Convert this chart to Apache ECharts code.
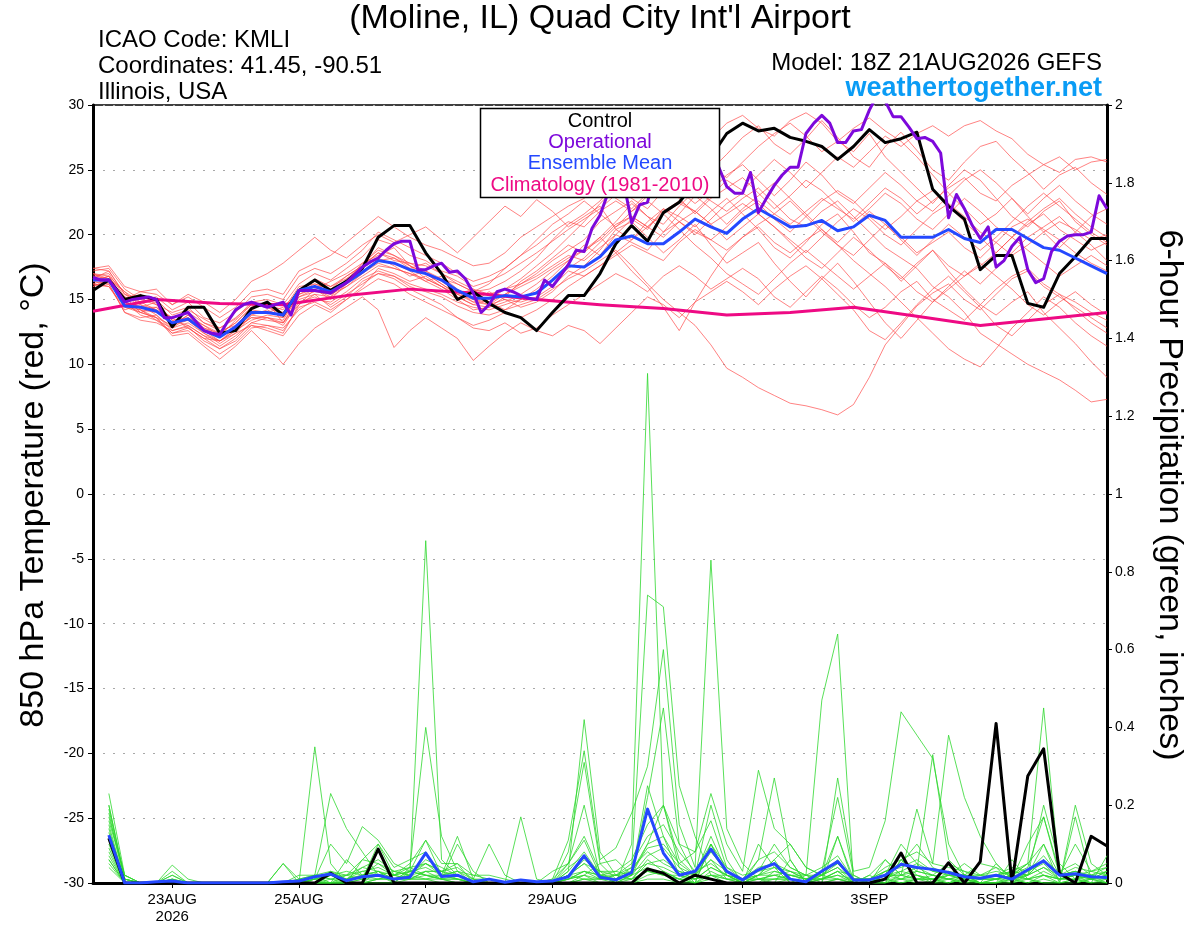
<!DOCTYPE html>
<html><head><meta charset="utf-8">
<script src="https://cdn.jsdelivr.net/npm/echarts@6/dist/echarts.min.js"></script>
<style>html,body{margin:0;padding:0;background:#fff}#c{width:1200px;height:927px}</style>
</head><body><div id="c"></div>
<script>
// ---- axis ticks (hours after 18Z 21AUG2026) ----
const tickHours = [30, 78, 126, 174, 246, 294, 342];
const tickLabels = ['23AUG\n2026', '25AUG', '27AUG', '29AUG', '1SEP', '3SEP', '5SEP'];

// ---- 850 hPa temperature, 6-hourly from hour 0 (65 values) ----
const control = [15.7,16.5,15.0,15.3,15.0,12.9,14.4,14.4,12.4,12.6,14.3,14.8,13.8,
 15.7,16.5,15.7,16.4,17.4,19.8,20.7,20.7,18.6,17.0,15.0,15.6,14.7,14.0,13.6,12.6,
 14.0,15.3,15.3,17.0,19.3,20.7,19.5,21.7,22.5,24.0,26.0,27.8,
 28.6,28.0,28.2,27.5,27.2,26.8,25.8,26.8,28.1,27.1,27.4,27.9,23.5,22.2,21.2,17.3,18.4,18.4,14.7,14.4,17.0,18.3,19.7,19.7];
const ensMean = [16.5,16.5,14.5,14.4,14.1,13.2,13.5,12.6,12.1,12.9,14.0,14.0,13.8,
 15.7,16.0,15.6,16.3,17.1,18.0,17.8,17.3,17.0,16.5,15.7,15.1,15.1,15.3,15.2,15.5,
 16.5,17.6,17.5,18.3,19.6,19.9,19.3,19.3,20.2,21.2,20.6,20.1,
 21.2,22.0,21.3,20.6,20.7,21.1,20.3,20.6,21.5,21.1,19.8,19.8,19.8,20.4,19.7,19.4,20.4,20.4,19.7,19.0,18.8,18.2,17.6,17.0];
// operational run, 3-hourly from hour 0 (129 values)
const operational = [16.7,16.5,16.5,15.7,14.8,15.0,15.1,15.2,15.0,13.6,13.6,13.8,14.0,13.3,12.6,12.4,12.3,13.3,14.2,14.6,
 14.8,14.6,14.4,14.6,14.8,13.8,15.7,15.7,15.7,15.6,15.5,15.9,16.3,16.9,17.5,17.9,18.2,18.8,19.3,19.5,
 19.5,17.3,17.3,17.6,17.8,17.1,17.2,16.6,15.5,14.0,14.6,15.6,15.8,15.6,15.3,15.1,15.0,16.5,16.0,16.8,
 17.7,18.8,18.7,20.5,21.5,23.2,24.5,24.0,20.9,22.3,22.5,25.0,26.0,26.5,27.0,27.2,26.8,26.5,26.0,25.2,
 23.7,23.2,23.2,24.8,21.7,22.8,23.8,24.6,25.2,25.2,27.8,28.6,29.2,28.6,27.1,27.1,28.0,28.1,29.6,30.8,
 30.3,29.1,29.1,28.3,27.4,27.5,27.2,26.3,21.3,23.1,22.0,20.7,19.7,20.6,17.5,18.0,19.1,19.8,17.3,16.3,
 16.6,18.7,19.5,19.9,20.0,20.0,20.2,23.0,22.0];
// climatology, daily at 18Z (17 values)
const climatology = [14.1,15.0,14.7,14.6,15.3,15.8,15.5,15.0,14.6,14.3,13.8,14.0,14.4,13.7,13.0,13.5,14.0];

// ---- ensemble members, 850 hPa temperature (65 values each) ----
const red01 = [16.8,17.0,15.2,14.8,15.0,13.8,14.2,13.5,12.8,13.5,14.8,15.0,14.6,16.2,17.0,16.5,17.4,18.3,19.6,19.2,18.4,18.0,17.2,16.8,16.0,16.4,17.0,17.8,18.6,19.5,20.4,21.2,22.0,23.1,24.0,23.2,24.5,25.8,26.4,25.0,26.2,27.5,28.4,27.0,26.2,27.4,28.8,27.5,26.0,25.2,26.8,27.9,26.5,25.0,24.2,25.6,26.8,27.2,25.9,24.8,23.5,24.6,25.2,24.0,23.1];
const red02 = [16.4,16.2,14.0,13.6,13.8,12.6,12.9,11.8,11.2,12.0,13.2,13.6,13.0,14.8,15.2,14.6,15.4,16.2,17.0,16.8,16.0,15.6,15.2,14.5,14.0,13.8,14.2,14.6,15.0,15.8,16.6,17.2,18.0,18.8,17.6,16.2,15.0,14.0,13.0,11.5,9.7,9.0,8.2,7.6,7.0,6.8,6.5,6.1,6.9,9.0,11.5,13.0,14.5,15.5,16.2,15.0,14.2,15.4,16.6,17.2,16.0,15.2,14.4,13.6,12.8];
const red03 = [17.2,17.4,15.8,15.0,14.6,13.4,13.0,12.2,11.8,12.4,13.0,12.6,12.2,13.8,14.6,14.0,15.0,16.0,17.4,17.0,16.4,16.8,16.0,15.2,14.6,15.0,15.8,16.2,17.0,18.0,18.8,19.6,21.0,21.8,22.6,21.4,20.8,22.2,23.4,22.6,21.8,22.8,23.6,22.4,21.2,20.6,21.8,22.6,21.4,20.2,19.0,18.2,17.4,16.0,15.2,14.0,12.4,11.6,10.8,10.0,9.4,8.8,8.0,7.1,7.3];
const red04 = [16.0,16.6,15.6,14.2,13.4,12.8,13.6,13.0,12.4,13.2,14.4,14.8,13.2,14.6,15.8,16.4,17.0,17.8,18.4,19.0,17.6,16.6,16.0,15.4,15.8,14.8,14.2,15.0,15.8,16.8,18.0,19.2,18.4,20.0,21.2,20.4,22.0,21.4,20.6,21.8,22.8,21.6,20.4,19.0,18.2,19.4,20.8,21.6,20.2,18.6,17.8,16.4,17.6,18.8,17.2,15.8,14.6,13.8,14.8,15.6,14.0,12.8,11.6,10.2,9.0];
const red05 = [17.0,16.8,15.0,15.4,14.6,14.0,14.4,13.2,12.6,13.0,14.2,14.0,14.4,15.6,16.6,16.0,16.8,17.6,18.6,18.0,17.8,17.2,16.6,16.2,15.6,15.8,16.4,17.2,18.2,19.6,20.8,21.6,22.6,24.0,25.2,24.6,26.0,27.0,28.2,27.4,28.6,29.2,28.2,27.6,28.8,29.4,28.6,27.2,26.4,27.8,26.0,24.8,23.6,22.4,23.8,25.0,24.2,22.8,21.4,20.6,21.8,22.6,21.0,20.0,19.2];
const red06 = [16.6,16.4,14.6,14.0,14.4,13.6,12.8,12.0,11.8,12.6,13.4,13.8,13.6,15.2,15.6,15.4,16.0,16.8,17.6,17.4,17.0,16.4,16.8,15.8,15.0,14.6,15.4,16.0,16.6,17.4,18.2,18.8,19.6,20.8,21.4,20.6,21.6,22.4,21.8,23.0,24.2,23.4,24.6,25.8,24.8,23.6,24.8,26.0,25.2,26.4,27.6,26.8,27.8,28.4,27.6,28.4,28.8,28.0,27.4,26.2,25.4,26.0,25.0,25.6,25.8];
const red07 = [16.2,16.0,14.2,14.6,13.8,12.8,13.2,12.4,11.6,12.4,13.8,14.2,13.6,15.4,15.8,15.0,16.2,17.4,18.2,17.6,16.8,17.2,16.4,15.6,14.8,14.6,15.0,14.8,15.2,16.0,17.2,16.8,17.6,18.4,19.2,18.6,18.0,19.4,20.4,19.6,18.8,19.8,20.6,19.4,18.6,19.6,20.4,19.2,18.4,19.6,20.8,19.8,18.6,19.4,20.2,19.0,18.2,19.4,20.6,21.2,20.4,19.6,18.6,17.8,17.2];
const red08 = [16.4,16.8,14.8,13.8,13.4,12.4,12.6,11.6,10.8,11.6,12.8,13.0,12.6,14.4,14.8,14.2,15.0,15.8,16.6,16.2,15.4,14.8,14.2,13.6,12.8,12.6,13.2,12.4,12.8,13.8,14.6,15.4,16.2,17.0,16.4,15.6,16.8,17.6,16.8,15.8,16.6,17.4,16.6,15.2,14.4,15.6,16.8,15.8,14.6,13.6,14.4,15.6,16.4,15.0,14.2,13.4,14.6,15.8,16.8,17.4,16.2,15.4,14.8,14.0,13.4];
const red09 = [17.4,17.2,15.4,15.0,15.2,14.2,14.8,13.6,13.2,14.0,15.2,15.4,15.0,16.8,17.4,17.0,17.8,18.8,20.2,19.6,19.0,18.4,17.8,17.0,16.4,16.8,17.4,18.4,19.2,20.2,21.0,20.6,21.8,22.6,21.8,23.0,23.8,22.8,21.6,22.8,23.6,24.4,23.2,22.0,23.0,24.2,23.4,22.2,21.0,22.0,23.2,22.4,21.2,20.4,21.6,22.8,21.8,20.6,19.8,20.8,21.6,20.4,19.6,18.8,19.4];
const red10 = [16.0,16.4,15.2,14.0,13.6,13.0,13.8,12.8,12.2,12.8,13.6,13.4,13.2,15.0,15.4,15.2,16.6,17.6,19.0,18.4,17.6,17.0,16.2,15.4,14.8,15.6,15.0,14.4,14.8,15.6,16.8,17.6,18.8,20.4,21.0,19.8,18.6,19.6,20.8,19.2,17.8,18.6,19.4,17.8,16.4,15.2,16.6,17.8,16.4,14.8,13.2,12.0,13.4,14.8,16.0,17.2,16.2,17.4,18.6,19.8,20.6,21.4,20.2,19.2,18.0];
const red11 = [16.6,17.2,15.4,14.6,14.2,13.0,13.8,13.0,12.2,13.4,14.6,14.4,13.8,15.8,16.4,16.0,16.6,17.2,18.0,18.2,17.6,17.0,16.2,15.4,15.0,14.8,15.4,16.2,16.8,17.6,18.4,18.0,19.0,20.0,19.4,18.8,20.2,21.0,20.2,19.6,20.6,21.8,22.6,21.6,20.8,21.8,22.8,22.0,21.2,22.4,23.6,22.8,21.6,22.6,23.6,24.4,23.2,22.6,23.8,24.6,25.4,24.8,25.8,26.0,25.6];
const red12 = [16.2,16.6,14.4,14.2,13.6,12.2,12.4,11.4,10.4,11.4,12.6,11.4,10.0,11.6,12.8,13.6,14.4,15.2,14.2,11.3,12.6,13.6,12.8,12.0,10.3,11.4,12.4,13.2,12.6,12.2,13.0,12.6,11.6,12.8,14.0,15.2,14.6,13.6,14.8,15.6,16.4,15.6,14.6,15.8,16.8,17.6,16.6,15.4,14.2,12.6,11.9,13.2,14.6,15.8,16.8,15.6,14.4,13.0,12.2,13.4,14.6,15.4,14.2,13.2,12.4];
const red13 = [17.0,16.6,14.8,14.4,14.8,13.4,13.6,12.8,12.4,13.2,14.4,14.6,14.2,16.0,16.2,15.8,16.4,17.8,18.8,18.4,17.8,17.6,17.0,16.4,15.8,15.4,15.8,16.6,17.6,18.6,19.8,21.0,22.4,23.6,22.8,22.0,23.4,24.8,26.0,25.2,24.4,25.6,26.8,27.8,28.6,27.6,26.4,27.2,28.2,29.0,28.0,27.2,26.0,24.6,23.2,22.0,20.8,21.6,22.8,21.4,20.2,19.0,20.2,21.4,22.0];
const red14 = [16.6,16.4,14.6,14.2,14.0,13.2,13.4,12.6,11.8,12.6,13.8,13.6,13.4,15.4,16.0,15.4,16.2,17.0,17.8,17.4,17.0,16.6,16.0,15.2,14.6,14.4,14.8,15.4,16.2,17.2,18.0,18.8,19.8,18.6,17.2,16.0,14.4,12.6,14.8,16.8,18.6,19.8,20.8,21.6,22.6,21.4,20.2,19.2,18.0,17.0,16.0,14.8,13.6,12.4,11.2,10.4,9.8,11.2,12.8,14.0,15.2,14.4,13.2,12.2,11.4];
const red15 = [17.4,17.6,16.0,15.6,15.4,14.6,15.2,14.4,13.6,14.4,15.6,15.8,15.4,17.2,17.8,18.4,19.4,20.4,21.4,20.6,19.8,19.2,18.8,18.2,17.6,17.8,18.6,19.8,20.6,21.4,22.2,22.8,23.7,22.8,22.0,23.2,24.2,23.4,22.4,23.4,24.6,25.4,24.2,23.0,24.2,25.6,24.6,23.2,22.4,23.6,24.8,23.8,22.6,21.8,23.0,24.2,25.0,24.0,22.8,21.6,22.8,23.8,22.6,21.6,20.8];
const red16 = [16.8,16.6,15.0,15.6,15.8,14.6,15.4,14.8,14.0,15.0,16.4,17.0,17.8,18.8,19.8,18.8,18.2,19.2,20.0,19.4,20.0,20.6,19.6,18.6,19.8,21.0,22.2,21.4,22.7,21.8,20.6,21.4,22.2,20.4,19.6,20.6,21.8,22.6,21.8,20.8,21.6,22.4,21.6,20.6,19.6,18.6,19.8,21.0,22.0,21.2,20.0,19.2,20.4,21.6,22.4,21.4,20.2,19.4,18.4,19.2,20.2,21.0,20.4,19.6,20.0];
const red17 = [15.8,16.2,14.0,13.4,13.2,12.6,13.0,12.2,11.4,12.2,13.2,13.0,12.8,14.2,15.0,14.8,15.6,16.6,17.2,16.8,16.2,15.8,15.4,14.8,14.4,14.2,14.6,15.0,15.6,16.4,17.4,18.2,19.4,20.6,21.4,20.6,19.8,21.0,21.8,20.8,19.6,20.6,21.6,20.6,19.4,18.2,17.4,18.6,19.8,18.8,17.6,16.6,17.8,18.8,17.6,16.8,17.6,18.6,19.8,18.8,17.8,16.8,17.6,18.4,17.6];
const red18 = [16.4,16.8,15.6,14.8,14.2,13.6,14.0,13.2,12.8,13.6,14.6,14.4,14.0,15.6,16.2,15.8,16.8,17.6,18.6,18.2,17.4,17.8,17.0,16.2,15.6,16.2,17.4,18.4,19.6,20.8,21.6,22.6,21.6,20.6,21.8,22.6,21.6,20.4,19.2,18.2,17.0,16.2,15.4,16.6,17.8,18.8,17.8,16.8,15.8,16.8,17.8,16.8,15.6,14.8,15.8,16.8,17.8,16.8,15.8,14.6,13.8,14.8,15.6,14.6,13.8];
const red19 = [16.2,16.0,14.4,14.0,13.6,12.4,12.8,12.0,11.2,11.8,13.0,12.8,12.4,14.6,15.4,14.4,15.2,16.4,17.0,16.6,15.8,15.2,14.6,13.6,13.0,13.4,14.0,13.6,14.2,15.0,16.0,16.8,17.6,18.6,19.6,21.0,22.0,21.0,20.0,21.2,22.4,23.2,22.4,21.2,20.2,21.4,22.6,23.4,22.6,21.4,20.4,21.4,22.6,23.4,22.2,21.0,19.8,18.6,19.8,21.0,22.0,22.8,21.6,20.6,19.8];
const red20 = [17.0,16.4,14.8,14.4,14.4,13.0,13.4,12.4,11.8,12.8,13.6,13.6,13.2,15.2,15.8,15.2,16.0,17.0,18.0,17.8,17.2,16.4,15.8,15.0,14.2,14.4,15.2,16.4,17.2,18.2,19.2,18.6,19.8,21.0,22.4,21.4,20.2,21.6,23.0,22.0,20.8,22.0,23.0,24.0,22.8,21.6,20.4,19.4,20.6,21.8,20.8,19.6,18.4,19.6,20.8,19.8,18.8,19.8,21.0,22.2,23.2,22.2,21.2,20.2,19.4];

// ---- 6-hour precipitation, from hour 6 (64 values each) ----
const controlPrecip = [0.115,0,0,0,0,0,0,0, 0,0,0,0,0,0,0.025,0, 0,0.087,0,0,0,0,0,0, 0,0,0,0,0,0,0,0,
 0,0,0.036,0.025,0,0.02,0.01,0, 0,0,0,0,0,0,0,0, 0,0.01,0.077,0,0,0.052,0,0.055, 0.41,0,0.275,0.345,0.025,0,0.12,0.095];
const meanPrecip = [0.123,0,0,0.003,0.005,0,0,0, 0,0,0,0.003,0.005,0.016,0.023,0.006, 0.016,0.02,0.01,0.015,0.077,0.017,0.02,0.003,
 0.01,0.002,0.008,0.003,0.005,0.016,0.07,0.015, 0.008,0.027,0.19,0.077,0.02,0.03,0.087,0.03, 0.008,0.034,0.05,0.01,0.003,0.03,0.055,0.008,
 0.008,0.02,0.048,0.04,0.035,0.027,0.016,0.012, 0.02,0.01,0.034,0.057,0.02,0.024,0.016,0.014];
const green01 = [0.23,0.02,0,0,0.01,0,0,0, 0,0,0,0,0,0.35,0.05,0, 0,0.03,0.01,0.02,0.88,0.06,0.02,0, 0,0,0,0,0,0.05,0.11,0.02, 0,0.1,1.31,0.2,0.04,0,0.1,0.02, 0,0.02,0.06,0,0,0.02,0.06,0, 0,0,0.06,0.02,0,0.03,0.01,0, 0,0.02,0.05,0.45,0.02,0,0.01,0.03];
const green02 = [0.2,0.01,0,0,0.046,0.01,0,0, 0,0,0,0,0.02,0.02,0.23,0.14, 0.08,0.02,0,0.04,0.4,0.12,0.03,0, 0,0,0,0,0,0.03,0.42,0.08, 0.02,0.04,0.74,0.71,0.25,0.12,0.02,0, 0,0.1,0.04,0,0.02,0.47,0.64,0, 0,0.02,0.1,0.05,0,0,0.02,0.05, 0.04,0,0.02,0.2,0.05,0.01,0,0.07];
const green03 = [0.18,0,0,0,0.03,0,0,0, 0,0,0,0.05,0,0.01,0.1,0.05, 0.145,0.11,0.05,0.03,0.11,0.02,0.12,0.01, 0.1,0.02,0,0,0.01,0.11,0.34,0.06, 0.09,0.18,0.3,0.6,0.15,0.04,0.83,0.14, 0.05,0.01,0,0.06,0,0,0.27,0.03, 0.04,0.16,0.44,0.38,0.32,0.1,0.02,0, 0,0.06,0.01,0,0,0.2,0.05,0.02];
const green04 = [0.16,0.02,0,0,0.02,0,0,0, 0,0,0,0,0,0.02,0.01,0, 0.06,0.1,0.04,0.06,0.08,0.01,0.1,0.03, 0,0,0.17,0.01,0,0.08,0.31,0.05, 0.06,0.02,0.22,0.45,0.1,0.08,0.23,0.1, 0.03,0.29,0.14,0.1,0.04,0.02,0.12,0, 0,0.06,0.02,0.19,0.05,0.38,0.22,0.12, 0.05,0.01,0.1,0.17,0.02,0.1,0.03,0.04];
const green05 = [0.14,0,0,0,0,0,0,0, 0,0,0,0,0,0.02,0,0.06, 0.02,0.05,0.03,0.02,0.05,0.03,0.05,0, 0,0,0,0,0.03,0.05,0.2,0.02, 0.03,0.06,0.15,0.2,0.1,0.02,0.2,0.06, 0,0.06,0.27,0.06,0,0.01,0.02,0, 0.02,0,0.06,0.03,0.33,0.06,0.02,0.02, 0.04,0.02,0.05,0.1,0,0.17,0.01,0];
const green06 = [0.12,0.01,0,0,0.01,0,0,0, 0,0,0,0,0,0,0.02,0.03, 0.02,0.03,0,0.03,0.05,0.02,0.03,0.02, 0.02,0.01,0,0,0,0,0.02,0.05, 0.01,0.03,0.1,0.12,0.05,0.08,0.16,0.04, 0.02,0.03,0.1,0.04,0.02,0,0.12,0.01, 0,0.02,0.02,0.04,0.02,0.05,0.03,0.01, 0.02,0.03,0.05,0.02,0.01,0.02,0.03,0.02];
const green07 = [0.1,0,0,0,0,0,0,0, 0,0,0,0,0.01,0.02,0.03,0.01, 0.03,0.02,0.03,0.04,0.02,0.01,0.02,0, 0,0,0,0,0,0.02,0.05,0.03, 0,0.02,0.25,0.12,0.02,0,0.1,0.02, 0.01,0.02,0.06,0.1,0.04,0.02,0.04,0, 0.02,0.06,0.02,0.01,0,0.02,0.01,0, 0.05,0.01,0.02,0.1,0.02,0.02,0,0.01];
const green08 = [0.08,0,0,0,0,0,0,0, 0,0,0,0,0,0.01,0,0.02, 0.01,0.1,0.02,0.01,0.03,0.03,0.01,0, 0,0,0,0,0,0.02,0.03,0.01, 0.02,0.01,0.06,0.03,0.01,0.03,0.05,0.02, 0,0,0.03,0.02,0.01,0.03,0.05,0.01, 0.01,0.03,0.01,0.02,0.01,0.02,0.02,0.01, 0.01,0,0.03,0.05,0.01,0.02,0.01,0.02];
const green09 = [0.06,0,0,0,0,0,0,0, 0,0,0,0,0,0,0,0, 0,0.01,0.02,0.03,0.02,0.01,0,0, 0,0,0,0,0,0.01,0.02,0, 0,0.02,0.04,0.02,0.01,0,0.03,0.01, 0,0.01,0.02,0.01,0,0.01,0.03,0, 0,0.01,0,0.01,0.02,0.01,0,0.01, 0.02,0.01,0,0.02,0,0.01,0.02,0];
const green10 = [0.05,0,0,0,0,0,0,0, 0,0,0,0,0,0.01,0.02,0, 0.02,0.01,0.01,0.02,0.01,0.02,0.01,0, 0,0,0,0,0,0.02,0.01,0.01, 0.02,0.01,0.03,0.02,0.02,0.01,0.02,0.02, 0.01,0.01,0.02,0.01,0,0.02,0.01,0.01, 0,0,0.02,0.01,0.01,0,0.01,0.02, 0.01,0.02,0.01,0.03,0.01,0.01,0.02,0.01];
const green11 = [0.2,0.01,0,0,0,0,0,0, 0,0,0,0,0,0,0.02,0.01, 0.04,0.06,0.03,0.02,0.06,0.04,0.02,0, 0,0,0,0,0,0.03,0.08,0.02, 0.01,0.02,0.1,0.2,0.06,0.02,0.12,0.03, 0,0.02,0.04,0.02,0.01,0.03,0.22,0.02, 0,0.03,0.05,0.1,0.04,0.02,0.05,0.02, 0.03,0.02,0.04,0.17,0.03,0.05,0.02,0.04];
const green12 = [0.11,0,0,0,0,0,0,0, 0,0,0,0,0,0,0,0.01, 0.02,0.03,0.01,0.01,0.03,0.01,0.01,0, 0,0,0,0,0,0.02,0.05,0.01, 0.01,0.04,0.08,0.05,0.03,0.02,0.06,0.01, 0.01,0.02,0.02,0.03,0.01,0.01,0.03,0.02, 0,0.01,0.03,0.02,0.01,0.02,0.01,0.01, 0.01,0.01,0.02,0.04,0.02,0.03,0.01,0.03];
const green13 = [0.09,0,0,0,0,0,0,0, 0,0,0,0,0,0,0,0, 0.01,0.02,0.01,0.03,0.04,0.02,0.01,0.01, 0.01,0,0,0,0,0.01,0.03,0.02, 0,0.01,0.05,0.04,0.02,0.01,0.04,0.02, 0,0.01,0.01,0.02,0.02,0.01,0.02,0.01, 0.01,0.02,0.01,0.03,0.02,0.01,0.02,0, 0.01,0.02,0.01,0.02,0.01,0.02,0.01,0.02];
const green14 = [0.07,0,0,0,0,0,0,0, 0,0,0,0,0,0,0,0, 0,0.01,0.02,0.01,0.02,0.01,0,0, 0,0,0,0,0,0,0.01,0.01, 0,0,0.02,0.03,0.01,0,0.02,0.01, 0,0,0.01,0.01,0,0,0.01,0, 0,0.01,0,0.01,0.01,0,0.01,0, 0,0.01,0,0.01,0,0,0.01,0];
const green15 = [0.04,0,0,0,0,0,0,0, 0,0,0,0.05,0.01,0,0,0, 0,0,0,0.01,0.01,0,0,0, 0,0,0,0,0,0,0.01,0, 0,0,0.01,0.01,0,0,0.01,0, 0,0,0,0.01,0,0,0.01,0, 0,0,0.01,0,0,0.01,0,0, 0,0,0.01,0,0,0.01,0,0];
const green16 = [0.17,0.02,0,0,0.02,0,0,0, 0,0,0,0,0.01,0.02,0.01,0.02, 0.06,0.05,0.02,0.05,0.11,0.05,0.05,0.02, 0.01,0,0,0,0.01,0.05,0.12,0.03, 0.02,0.05,0.12,0.15,0.08,0.03,0.1,0.04, 0.01,0.06,0.08,0.04,0.02,0.04,0.07,0.01, 0.01,0.04,0.06,0.08,0.05,0.04,0.03,0.02, 0.02,0.04,0.03,0.07,0.02,0.04,0.03,0.05];
const green17 = [0.13,0.01,0,0,0,0,0,0, 0,0,0,0,0,0.01,0.02,0.02, 0.03,0.04,0.02,0.03,0.02,0.02,0.03,0.01, 0,0,0,0,0,0.02,0.06,0.03, 0.03,0.02,0.07,0.09,0.04,0.02,0.06,0.03, 0.01,0.04,0.05,0.03,0.01,0.02,0.04,0.01, 0.01,0.02,0.03,0.05,0.03,0.02,0.02,0.01, 0.02,0.03,0.02,0.06,0.02,0.03,0.01,0.02];
const green18 = [0.15,0,0,0,0,0,0,0, 0,0,0,0,0,0,0.01,0.01, 0.02,0.02,0.01,0.02,0.03,0.03,0.02,0, 0,0,0,0,0,0.01,0.03,0.02, 0.01,0.03,0.05,0.06,0.03,0.01,0.04,0.02, 0,0.02,0.03,0.02,0.01,0.01,0.03,0, 0,0.02,0.02,0.03,0.02,0.01,0.02,0, 0.01,0.02,0.02,0.04,0.01,0.02,0.02,0.01];
const green19 = [0.06,0,0,0,0,0,0,0, 0,0,0,0,0,0,0,0, 0.01,0.01,0.01,0.01,0.01,0.01,0.01,0, 0,0,0,0,0,0.01,0.02,0.01, 0.01,0.01,0.03,0.02,0.01,0.01,0.02,0.01, 0.01,0.01,0.01,0.01,0,0.01,0.01,0, 0,0.01,0.01,0.01,0.01,0.01,0.01,0, 0,0.01,0.01,0.02,0.01,0.01,0.01,0.01];
const green20 = [0.19,0.01,0,0,0.01,0,0,0, 0,0,0,0,0,0.01,0.03,0.02, 0.04,0.03,0.02,0.04,0.05,0.03,0.04,0.01, 0,0,0,0,0,0.04,0.07,0.02, 0.02,0.03,0.09,0.1,0.05,0.02,0.08,0.03, 0.01,0.03,0.04,0.03,0.02,0.02,0.05,0.01, 0.01,0.03,0.04,0.06,0.03,0.03,0.02,0.01, 0.01,0.03,0.02,0.06,0.02,0.03,0.02,0.03];

const redMembers = [red01,red02,red03,red04,red05,red06,red07,red08,red09,red10,red11,red12,red13,red14,red15,red16,red17,red18,red19,red20];
const greenMembers = [green01,green02,green03,green04,green05,green06,green07,green08,green09,green10,green11,green12,green13,green14,green15,green16,green17,green18,green19,green20];

// ---- build ----
const FONT = 'Liberation Sans, Arial, Helvetica, sans-serif';
const pairs = (vals, step, start) => vals.map((v, i) => [start + i * step, v]);
const thin = (data, color, yIdx, z) => ({
  type: 'line', data, yAxisIndex: yIdx, symbol: 'none', silent: true, z,
  lineStyle: { color, width: 0.8 }, animation: false
});
const thick = (data, color, yIdx, z) => ({
  type: 'line', data, yAxisIndex: yIdx, symbol: 'none', silent: true, z,
  lineStyle: { color, width: 3, join: 'round' }, animation: false
});

const series = [];
redMembers.forEach(m => series.push(thin(pairs(m, 6, 0), 'rgba(255,70,70,0.85)', 0, 2)));
greenMembers.forEach(m => series.push(thin(pairs(m, 6, 6), '#2ed82e', 1, 3)));
series.push(thick(pairs(climatology, 24, 0), '#ee0a84', 0, 4));
series.push(thick(pairs(control, 6, 0), '#000000', 0, 5));
series.push(thick(pairs(ensMean, 6, 0), '#2448ff', 0, 6));
series.push(thick(pairs(operational, 3, 0), '#7d08db', 0, 7));
series.push(thick(pairs(controlPrecip, 6, 6), '#000000', 1, 5));
series.push(thick(pairs(meanPrecip, 6, 6), '#2448ff', 1, 6));

const txt = (text, x, y, size, color, align, extra, weight) => Object.assign({
  type: 'text', x, y, z: 100,
  style: { text, fill: color, fontSize: size, fontFamily: FONT, fontWeight: weight || 'normal',
    align, textAlign: align, verticalAlign: 'middle', textVerticalAlign: 'middle' }
}, extra || {});

const chart = echarts.init(document.getElementById('c'), null, { renderer: 'canvas' });
chart.setOption({
  backgroundColor: '#ffffff',
  animation: false,
  grid: { left: 93, right: 93, top: 105, bottom: 44, show: true, borderColor: '#000', borderWidth: 1.5, backgroundColor: 'transparent' },
  xAxis: {
    type: 'value', min: 0, max: 384,
    axisLine: { onZero: false, lineStyle: { color: '#000', width: 3 } },
    axisTick: { show: true, customValues: tickHours, length: 5, lineStyle: { color: '#000', width: 1 } },
    axisLabel: { customValues: tickHours, color: '#000', fontSize: 15, fontFamily: FONT, lineHeight: 17, margin: 8,
      formatter: v => { const k = tickHours.indexOf(v); return k >= 0 ? tickLabels[k] : ''; } },
    splitLine: { show: false }
  },
  yAxis: [
    { type: 'value', min: -30, max: 30, interval: 5, position: 'left',
      axisLine: { show: true, onZero: false, lineStyle: { color: '#000', width: 3 } },
      axisTick: { show: true, length: 5, lineStyle: { color: '#000', width: 1 } },
      axisLabel: { color: '#000', fontSize: 14, fontFamily: FONT, margin: 9 },
      splitLine: { show: true, lineStyle: { color: '#a8a8a8', width: 1, type: [2, 8] } } },
    { type: 'value', min: 0, max: 2, interval: 0.2, position: 'right',
      axisLine: { show: true, onZero: false, lineStyle: { color: '#000', width: 3 } },
      axisTick: { show: true, length: 5, lineStyle: { color: '#000', width: 1 } },
      axisLabel: { color: '#000', fontSize: 14, fontFamily: FONT, margin: 8,
        formatter: v => String(parseFloat(v.toFixed(1))) },
      splitLine: { show: false } }
  ],
  graphic: [
    txt("(Moline, IL) Quad City Int'l Airport", 600, 19, 34, '#000', 'center'),
    txt('ICAO Code: KMLI', 98, 40, 24, '#000', 'left'),
    txt('Coordinates: 41.45, -90.51', 98, 66, 24, '#000', 'left'),
    txt('Illinois, USA', 98, 92, 24, '#000', 'left'),
    txt('Model: 18Z 21AUG2026 GEFS', 1102, 63, 24, '#000', 'right'),
    txt('weathertogether.net', 1102, 89, 27, '#0a9cf5', 'right', null, 'bold'),
    txt('850 hPa Temperature (red, °C)', 34, 495, 34, '#000', 'center', { rotation: Math.PI / 2 }),
    txt('6-hour Precipitation (green, inches)', 1169, 495, 34, '#000', 'center', { rotation: -Math.PI / 2 }),
    { type: 'rect', z: 99, shape: { x: 480.5, y: 108.5, width: 239, height: 89 },
      style: { fill: '#fff', stroke: '#000', lineWidth: 1.5 } },
    txt('Control', 600, 121, 20, '#000', 'center'),
    txt('Operational', 600, 142, 20, '#7d08db', 'center'),
    txt('Ensemble Mean', 600, 163, 20, '#2448ff', 'center'),
    txt('Climatology (1981-2010)', 600, 185, 20, '#ee0a84', 'center')
  ],
  series
});
</script>
</body></html>
